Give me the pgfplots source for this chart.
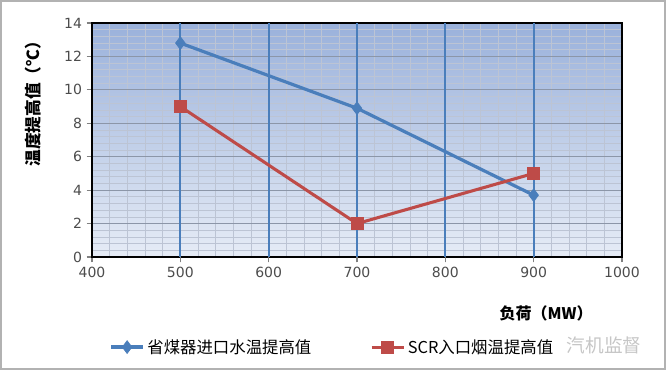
\documentclass[border=0pt]{standalone}
\usepackage{pgfplots}
\pgfplotsset{compat=1.18}
\usetikzlibrary{calc}
\usepackage{fontspec}
\setmainfont{Noto Sans CJK SC}
\newfontfamily\tickfont{DejaVu Sans}
\definecolor{serblue}{HTML}{4A7EBB}
\definecolor{serred}{HTML}{BE4B48}
\definecolor{bgtop}{HTML}{9AB1DB}
\definecolor{bgbot}{HTML}{E6ECF6}
\definecolor{gridmaj}{HTML}{8C96A8}
\definecolor{gridmin}{HTML}{BCC4D4}
\begin{document}
\begin{tikzpicture}[x=0.75pt,y=0.75pt]
\begin{axis}[
  scale only axis,
  width=397.5pt, height=175.5pt,
  xmin=400, xmax=1000, ymin=0, ymax=14,
  xtick={400,500,...,1000}, ytick={0,2,...,14},
  minor x tick num=4, minor y tick num=4,
  xminorgrids, ymajorgrids, yminorgrids,
  minor x grid style={color=gridmin, line width=0.6pt},
  major y grid style={color=gridmaj, line width=0.8pt},
  minor y grid style={color=gridmin, line width=0.5pt},
  extra x ticks={500,600,700,800,900},
  extra x tick labels={},
  extra x tick style={grid=major, major grid style={color=serblue, line width=1.3pt}},
  axis line style={black, line width=1.5pt},
  tick align=outside, major tick length=4pt, minor tick length=0pt,
  tick style={gray, line width=0.8pt},
  xtick pos=bottom, ytick pos=left,
  axis background/.style={top color=bgtop, bottom color=bgbot},
  ticklabel style={font=\tickfont\fontsize{10.5}{12}\selectfont, color=black!70},
  /pgf/number format/1000 sep={},
  /pgf/number format/assume math mode=true,
  xlabel={\textbf{负荷（MW）}},
  ylabel={\textbf{温度提高值（℃）}},
  xlabel style={at={(axis description cs:0.857,-0.239)}, anchor=center, font=\fontsize{12}{14}\selectfont},
  ylabel style={at={(axis description cs:-0.111,0.671)}, anchor=center, font=\fontsize{12.5}{14}\selectfont},
  legend style={at={(axis description cs:0.025,-0.385)}, anchor=west, draw=none, fill=none,
    font=\fontsize{12.3}{14}\selectfont, legend columns=2,
    /tikz/every even column/.append style={column sep=42pt}},
  legend image code/.code={\draw[mark repeat=2,mark phase=2,#1] plot coordinates {(0pt,0pt) (12pt,0pt) (24pt,0pt)};},
]
\addplot[color=serblue, line width=2.4pt, mark=diamond*, mark size=4.8pt, mark options={fill=serblue, line width=0.5pt}]
  coordinates {(500,12.8) (700,8.9) (900,3.7)};
\addlegendentry{省煤器进口水温提高值}
\addplot[color=serred, line width=2.3pt, mark=square*, mark size=4.5pt, mark options={fill=serred, line width=0.5pt}]
  coordinates {(500,9) (700,2) (900,5)};
\addlegendentry{SCR入口烟温提高值}
\coordinate (O) at (rel axis cs:0,0);
\end{axis}
\draw[draw=gray!60, line width=1.2pt] ($(O)+(-91.2,-112.2)$) rectangle ($(O)+(573.2,256.2)$);
\node[anchor=west, text=gray!45, font=\fontsize{14}{16}\selectfont] at ($(O)+(470,-88)$) {汽机监督};
\end{tikzpicture}
\end{document}
